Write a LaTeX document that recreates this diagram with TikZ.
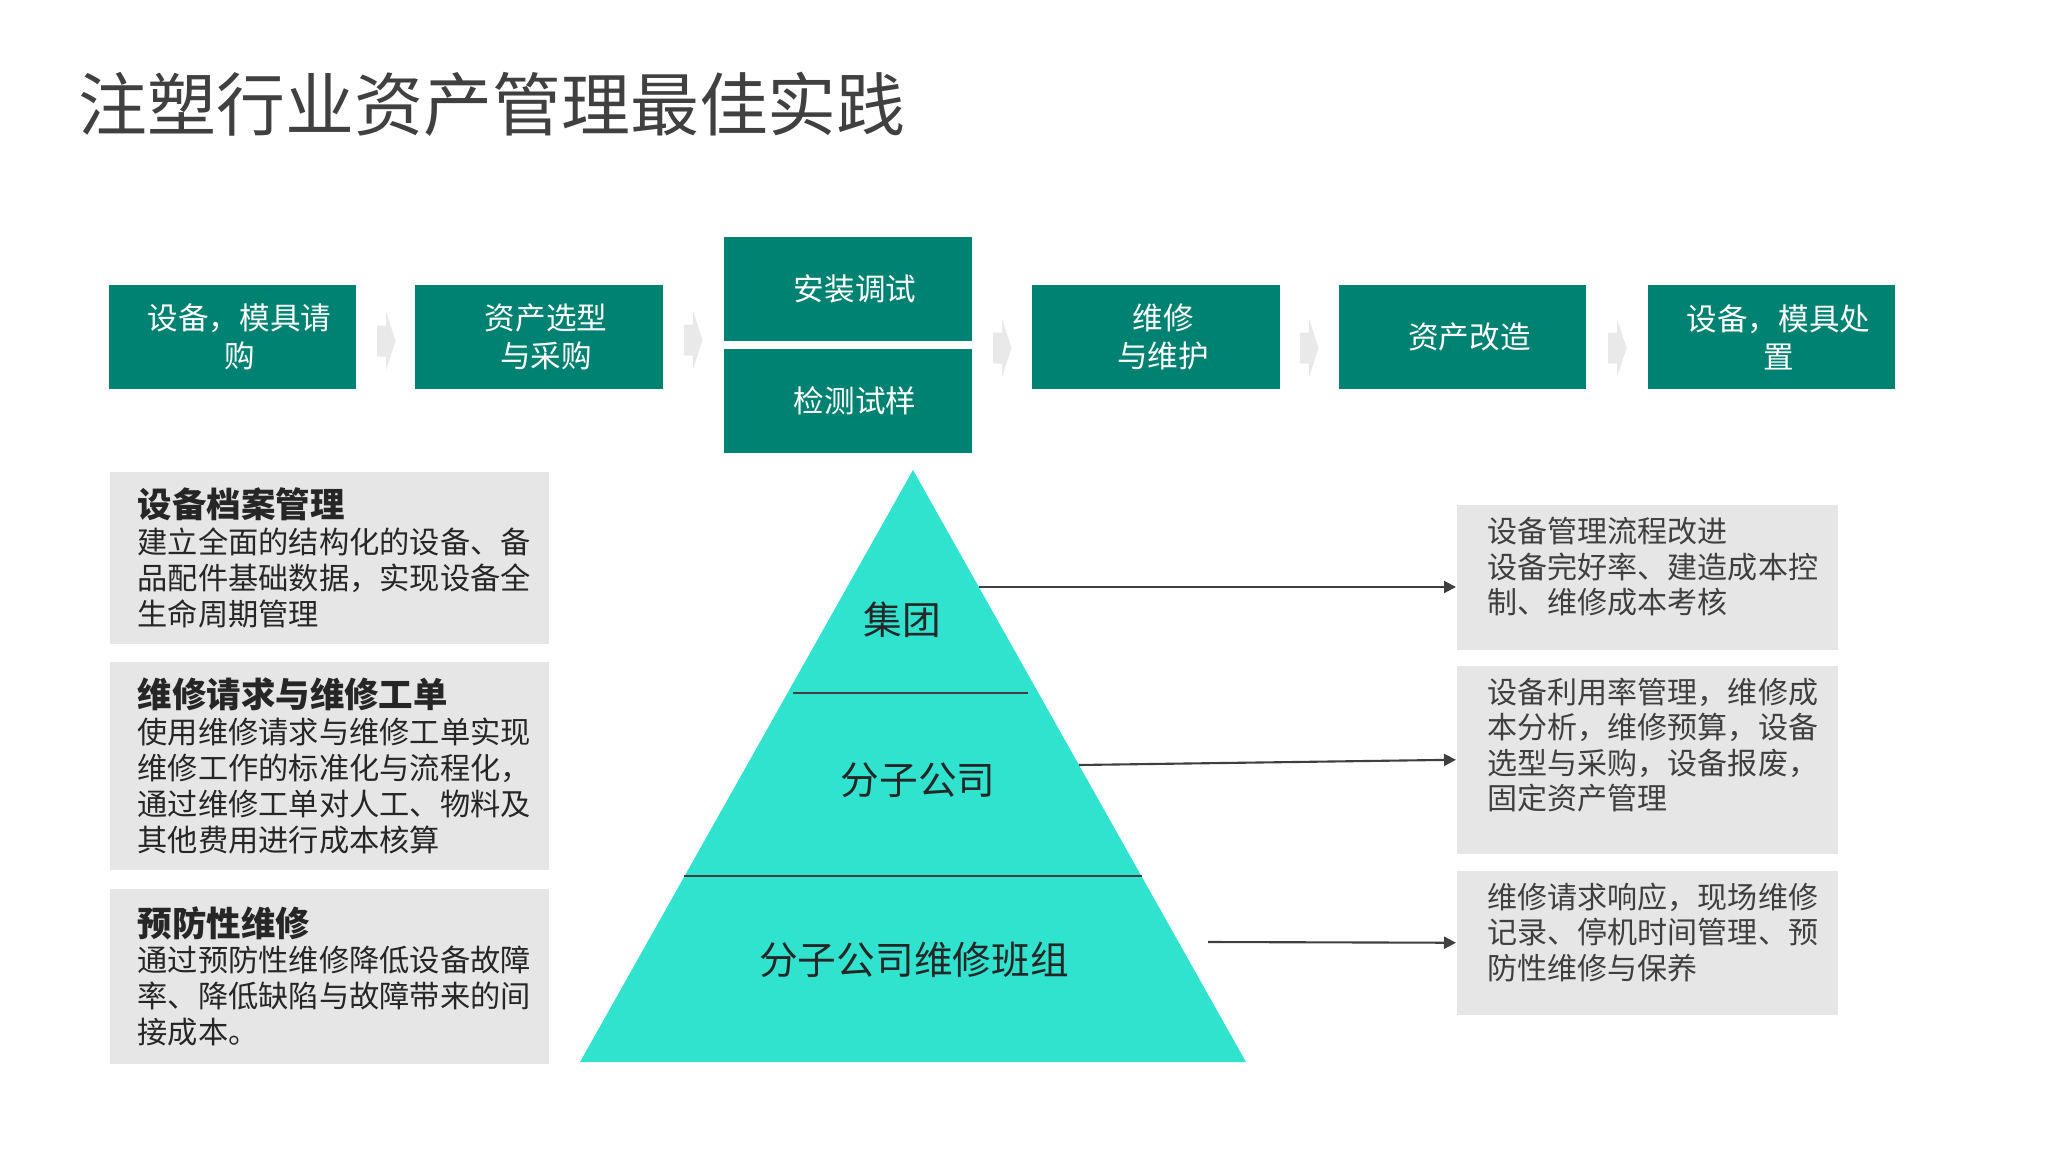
\documentclass[tikz,border=0pt]{standalone}
\usepackage{fontspec}
\setmainfont{Noto Sans CJK SC}
\usetikzlibrary{arrows.meta,positioning}
\definecolor{flow}{HTML}{008272}
\definecolor{pyr}{HTML}{30E3CF}
\definecolor{panel}{HTML}{E6E6E6}
\definecolor{chev}{HTML}{E9E9E9}
\definecolor{ink}{HTML}{262626}
\definecolor{inksoft}{HTML}{3F3F3F}
\definecolor{headgray}{HTML}{404040}
\newcommand\panelhead{\bfseries\fontsize{9.8}{10.2}\selectfont}
\newcommand\stepin{\hspace*{0.14cm}}

\begin{document}
\begin{tikzpicture}[x=0.01cm,y=-0.01cm,font=\fontsize{8.6}{10.2}\selectfont,
  stepbox/.style={fill=flow,text=white,minimum width=2.47cm,minimum height=1.04cm,inner sep=0pt,align=center,font=\fontsize{8.7}{10.8}\selectfont},
  panelbox/.style={fill=panel,anchor=north west,inner xsep=0.28cm,inner ysep=0pt,text width=3.83cm,align=left,text=ink},
  notebox/.style={fill=panel,anchor=north west,minimum width=3.81cm,inner sep=0pt},
  notetext/.style={inner sep=0pt,align=left,text=inksoft,font=\fontsize{8.54}{10.1}\selectfont},
  tier/.style={inner sep=0pt,text=ink,font=\fontsize{11}{13}\selectfont},
  link/.style={-{Triangle[length=0.12cm,width=0.12cm]},draw=inksoft,line width=0.6pt}]
\useasboundingbox (0,0) rectangle (2065,1160);
% title
\node[anchor=west,inner sep=0pt,text=headgray,font=\fontsize{19.6}{24}\selectfont] (title) at (78,104.5) {注塑行业资产管理最佳实践};
% process steps
\node[stepbox] (b1) at (232.5,337) {\stepin 设备，模具请\\\stepin 购};
\node[stepbox] (b2) at (539,337) {\stepin 资产选型\\\stepin 与采购};
\node[stepbox] (b3a) at (848,289) {\stepin 安装调试};
\node[stepbox] (b3b) at (848,401) {\stepin 检测试样};
\node[stepbox] (b4) at (1156,337) {\stepin 维修\\\stepin 与维护};
\node[stepbox] (b5) at (1462.5,337) {\stepin 资产改造};
\node[stepbox] (b6) at (1771.5,337) {\stepin 设备，模具处\\\stepin 置};
% chevrons between steps
\foreach \cx/\cy in {386/341,693/340,1002/348,1309/348,1617/348}
  \fill[chev] (\cx-9,\cy-15.5) -- (\cx,\cy-15.5) -- (\cx,\cy-29.5) -- (\cx+9.5,\cy)
    -- (\cx,\cy+29.5) -- (\cx,\cy+15.5) -- (\cx-9,\cy+15.5) -- cycle;
% left panels
\node[panelbox,minimum height=1.72cm] (l1) at (109,471)
  {{\panelhead 设备档案管理}\\[0pt]建立全面的结构化的设备、备\\品配件基础数据，实现设备全\\生命周期管理};
\node[panelbox,minimum height=2.08cm] (l2) at (109,661)
  {{\panelhead 维修请求与维修工单}\\[0pt]使用维修请求与维修工单实现\\维修工作的标准化与流程化，\\通过维修工单对人工、物料及\\其他费用进行成本核算};
\node[panelbox,minimum height=1.75cm] (l3) at (109,888)
  {{\panelhead 预防性维修}\\[0pt]通过预防性维修降低设备故障\\率、降低缺陷与故障带来的间\\接成本。};
% pyramid
\fill[pyr] (913,470) -- (1246,1062) -- (580,1062) -- cycle;
\draw[inksoft,line width=0.6pt] (793,693) -- (1028,693);
\draw[inksoft,line width=0.6pt] (684,876) -- (1142,876);
\node[tier] (p1) at (902,620) {集团};
\node[tier] (p2) at (918,780) {分子公司};
\node[tier] (p3) at (914,960) {分子公司维修班组};
% right notes
\node[notebox,minimum height=1.445cm] (r1) at (1456,504.5) {};
\node[notebox,minimum height=1.88cm] (r2) at (1456,665) {};
\node[notebox,minimum height=1.44cm] (r3) at (1456,870) {};
\node[notetext,below right=0.12cm and 0.31cm of r1.north west] (r1t)
  {设备管理流程改进\\设备完好率、建造成本控\\制、维修成本考核};
\node[notetext,below right=0.12cm and 0.31cm of r2.north west] (r2t)
  {设备利用率管理，维修成\\本分析，维修预算，设备\\选型与采购，设备报废，\\固定资产管理};
\node[notetext,below right=0.12cm and 0.31cm of r3.north west] (r3t)
  {维修请求响应，现场维修\\记录、停机时间管理、预\\防性维修与保养};
% links
\coordinate (g1) at (979,587);
\coordinate (g2) at (1079,765);
\coordinate (g3) at (1208,942);
\draw[link] (g1) -- (g1 -| r1.west);
\draw[link] (g2) -- (r2.west);
\draw[link] (g3) -- (r3.west);
\end{tikzpicture}
\end{document}
